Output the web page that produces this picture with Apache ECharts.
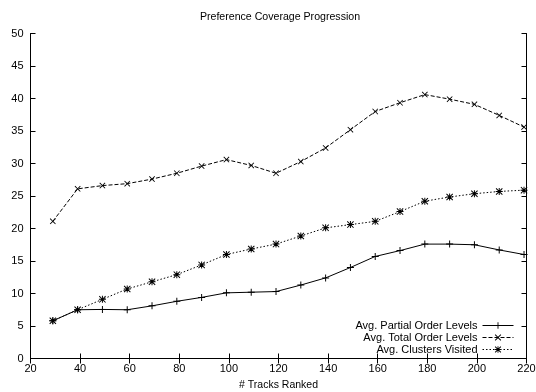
<!DOCTYPE html>
<html>
<head>
<meta charset="utf-8">
<style>
  html, body { margin: 0; padding: 0; background: #fff; }
  #chart { width: 536px; height: 392px; }
</style>
<script src="https://cdn.jsdelivr.net/npm/echarts@6/dist/echarts.min.js"></script>
</head>
<body>
<div id="chart"></div>
<script>
// Tracks ranked (x) for every sample
const tracksRanked = [29, 39, 49, 59, 69, 79, 89, 99, 109, 119, 129, 139, 149, 159, 169, 179, 189, 199, 209, 219];

const partialOrderLevels = [5.8, 7.5, 7.55, 7.5, 8.1, 8.8, 9.4, 10.1, 10.2, 10.3, 11.3, 12.4, 14.0, 15.7, 16.6, 17.6, 17.6, 17.5, 16.7, 16.0];
const totalOrderLevels = [21.1, 26.1, 26.6, 26.9, 27.6, 28.5, 29.6, 30.6, 29.7, 28.5, 30.3, 32.4, 35.2, 38.0, 39.35, 40.6, 39.9, 39.1, 37.4, 35.6];
const clustersVisited = [5.8, 7.5, 9.1, 10.7, 11.8, 12.9, 14.4, 16.0, 16.85, 17.6, 18.85, 20.1, 20.6, 21.1, 22.6, 24.2, 24.85, 25.35, 25.7, 25.9];

const seriesNames = ['Avg. Partial Order Levels', 'Avg. Total Order Levels', 'Avg. Clusters Visited'];
const xTicks = { min: 20, max: 220, step: 20 };
const yTicks = { min: 0, max: 50, step: 5 };

// gnuplot-style point glyphs: plus, cross and star (plus + cross)
const PLUS = 'M4.3,0H5.7V4.3H10V5.7H5.7V10H4.3V5.7H0V4.3H4.3Z';
const CROSS = 'M0,1L1,0L5,4L9,0L10,1L6,5L10,9L9,10L5,6L1,10L0,9L4,5Z';
const STAR = PLUS + CROSS;

const font = 'Liberation Sans, Arial, Helvetica, sans-serif';

function pairs(ys) { return tracksRanked.map((x, i) => [x, ys[i]]); }

function lineSeries(name, ys, glyph, dash, size) {
  return {
    name: name,
    type: 'line',
    data: pairs(ys),
    symbol: 'path://' + glyph,
    symbolSize: size,
    showSymbol: true,
    animation: false,
    itemStyle: { color: '#000' },
    lineStyle: { color: '#000', width: 1, type: dash },
    emphasis: { disabled: true }
  };
}

const tickOnly = {
  axisLine: { show: true, lineStyle: { color: '#000', width: 1 } },
  axisTick: { show: true, inside: true, length: 5, lineStyle: { color: '#000' } },
  axisLabel: { show: false },
  splitLine: { show: false }
};

const chart = echarts.init(document.getElementById('chart'), null, { renderer: 'canvas' });
chart.setOption({
  backgroundColor: '#fff',
  animation: false,
  title: {
    text: 'Preference Coverage Progression',
    left: 280,
    textAlign: 'center',
    top: 12,
    padding: 0,
    textStyle: { fontFamily: font, fontSize: 10.6, fontWeight: 'normal', color: '#000' }
  },
  grid: { left: 30.5, right: 9.5, top: 33.5, bottom: 33.5, containLabel: false, outerBoundsMode: 'none' },
  xAxis: [
    Object.assign({
      type: 'value', position: 'bottom',
      min: xTicks.min, max: xTicks.max, interval: xTicks.step,
      name: '# Tracks Ranked', nameLocation: 'middle', nameGap: 21,
      nameTextStyle: { fontFamily: font, fontSize: 10.5, color: '#000' }
    }, tickOnly, {
      axisLabel: { show: true, margin: 5, fontFamily: font, fontSize: 11, color: '#000' }
    }),
    Object.assign({
      type: 'value', position: 'top',
      min: xTicks.min, max: xTicks.max, interval: xTicks.step
    }, tickOnly)
  ],
  yAxis: [
    Object.assign({
      type: 'value', position: 'left',
      min: yTicks.min, max: yTicks.max, interval: yTicks.step
    }, tickOnly, {
      axisLabel: { show: true, margin: 7, fontFamily: font, fontSize: 11, color: '#000' }
    }),
    Object.assign({
      type: 'value', position: 'right',
      min: yTicks.min, max: yTicks.max, interval: yTicks.step
    }, tickOnly)
  ],
  legend: {
    orient: 'vertical',
    right: 22,
    bottom: 37,
    align: 'right',
    itemWidth: 31,
    itemHeight: 8,
    itemGap: 1,
    padding: 0,
    selectedMode: false,
    lineStyle: { width: 1 },
    textStyle: { fontFamily: font, fontSize: 11, lineHeight: 10, color: '#000', padding: [0, 0, 0, 0] },
    data: seriesNames
  },
  series: [
    lineSeries(seriesNames[0], partialOrderLevels, PLUS, 'solid', 7),
    lineSeries(seriesNames[1], totalOrderLevels, CROSS, [4, 2], 6),
    lineSeries(seriesNames[2], clustersVisited, STAR, [1.5, 2], 7)
  ]
});
</script>
</body>
</html>
